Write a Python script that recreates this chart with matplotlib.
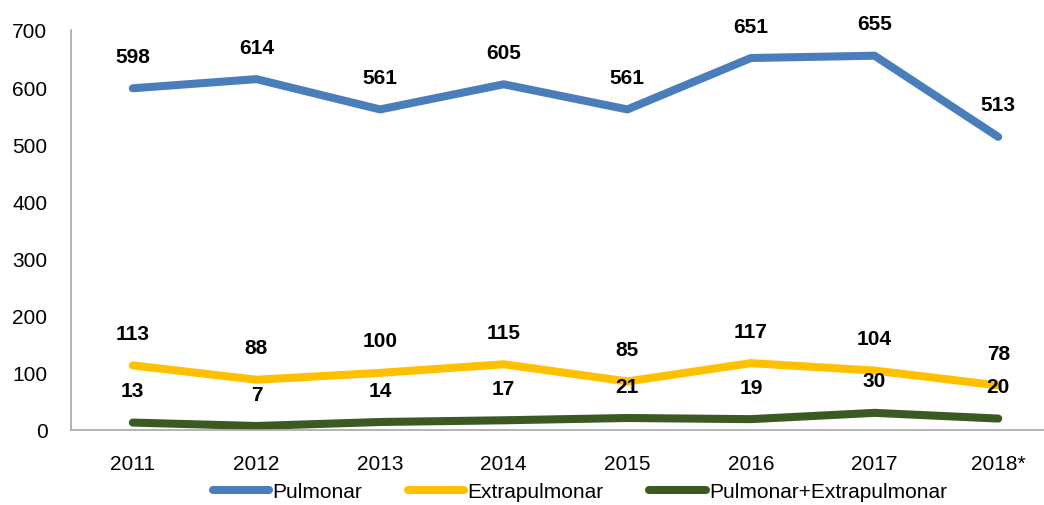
import matplotlib
matplotlib.use("Agg")
import matplotlib.pyplot as plt
from matplotlib.lines import Line2D

years = ["2011", "2012", "2013", "2014", "2015", "2016", "2017", "2018*"]
pulmonar = [598, 614, 561, 605, 561, 651, 655, 513]
extrapulmonar = [113, 88, 100, 115, 85, 117, 104, 78]
ambos = [13, 7, 14, 17, 21, 19, 30, 20]
series_names = ["Pulmonar", "Extrapulmonar", "Pulmonar+Extrapulmonar"]
colors = ["#4A7EBB", "#FFC000", "#3B5A23"]
yticks = [0, 100, 200, 300, 400, 500, 600, 700]

plt.rcParams['font.family'] = ['Liberation Sans', 'DejaVu Sans']

fig = plt.figure(figsize=(10.44, 5.06), dpi=100)
W, H = 1044, 506
ax = fig.add_axes([71 / W, 1 - 431 / H, (1060 - 71) / W, 400 / H])

x = list(range(len(years)))
for vals, col in zip([pulmonar, extrapulmonar, ambos], colors):
    ax.plot(x, vals, color=col, lw=5.8, solid_capstyle='round', solid_joinstyle='round')
    for xi, v in zip(x, vals):
        ax.annotate(str(v), (xi, v), xytext=(0, 23), textcoords='offset points',
                    ha='center', va='center', fontsize=15, fontweight='bold', color='black')

ax.set_xlim(-0.5, 7.5)
ax.set_ylim(0, 700)
ax.set_yticks(yticks)
ax.set_yticklabels([str(t) for t in yticks])
ax.set_xticks(x)
ax.set_xticklabels(years)
ax.tick_params(axis='both', length=0, labelsize=15, colors='black')
ax.tick_params(axis='y', pad=17)
ax.tick_params(axis='x', pad=17)
for s in ['top', 'right']:
    ax.spines[s].set_visible(False)
for s in ['left', 'bottom']:
    ax.spines[s].set_color('#A6A6A6')
    ax.spines[s].set_linewidth(1.2)

handles = [Line2D([0], [0], color=c, lw=5.8, solid_capstyle='round') for c in colors]
fig.legend(handles, series_names, loc='center', bbox_to_anchor=(580 / W, 1 - 493 / H),
           ncol=3, frameon=False, fontsize=15, handlelength=2.7, handletextpad=0.15,
           columnspacing=2.2, borderaxespad=0, borderpad=0)

fig.savefig("out.png", dpi=100)
